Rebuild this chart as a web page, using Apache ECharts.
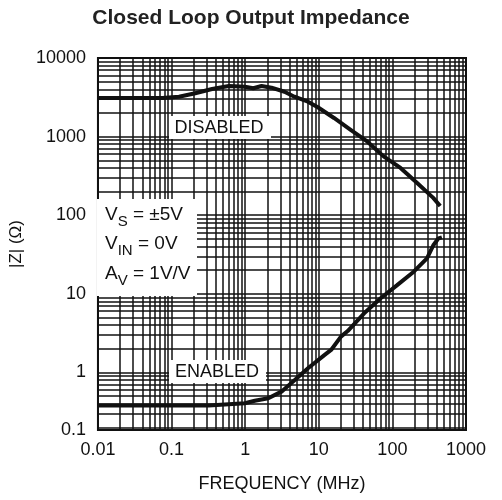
<!DOCTYPE html>
<html>
<head>
<meta charset="utf-8">
<script src="https://cdn.jsdelivr.net/npm/echarts@6/dist/echarts.min.js"></script>
<style>
  html, body { margin: 0; padding: 0; background: #fff; }
  #chart { width: 502px; height: 500px; }
</style>
</head>
<body>
<div id="chart"></div>
<script>
// tick labels
const xTickLabels = ['0.01', '0.1', '1', '10', '100', '1000']
const yTickLabels = ['0.1', '1', '10', '100', '1000', '10000']

// DISABLED curve, frequency (MHz) / |Z| (ohm)
const disabledFreq = [0.01, 0.075, 0.126, 0.21, 0.355, 0.6, 0.99, 1.29, 1.67, 2.28, 3.42, 4.66, 7.13, 9.7, 16.1, 27.4, 45.9, 76, 129, 217, 359, 446]
const disabledZ = [3100, 3100, 3220, 3560, 4030, 4400, 4310, 4120, 4400, 4190, 3720, 3220, 2780, 2360, 1725, 1213, 861, 560, 399, 257, 166, 131]

// ENABLED curve
const enabledFreq = [0.01, 0.32, 0.33, 0.99, 1.35, 2.06, 3.11, 4.72, 7.13, 11.9, 14.7, 20, 24.7, 41.3, 69.3, 116, 195, 295, 362, 423, 470]
const enabledZ = [0.38, 0.38, 0.40, 0.405, 0.436, 0.468, 0.569, 0.80, 1.13, 1.66, 1.93, 2.85, 3.36, 5.65, 8.77, 12.9, 19.1, 28.3, 41.8, 50.8, 52.3]

const yMin = 0.185 // plot bottom sits a bit above 0.1 in the original
const ink = '#111'

// minor grid lines at 2..9 of every decade
const gridLines = []
for (let d = -2; d <= 2; d++) {
  for (let m = 2; m <= 9; m++) gridLines.push({ xAxis: m * Math.pow(10, d) })
}
for (let d = -1; d <= 3; d++) {
  for (let m = 2; m <= 9; m++) {
    const v = m * Math.pow(10, d)
    if (v >= yMin) gridLines.push({ yAxis: v })
  }
}

const pairs = (xs, ys) => xs.map((x, i) => [x, ys[i]])
const labelFor = (labels, first) => v => labels[Math.floor(Math.log10(v) + 1e-6) - first] || ''

const chart = echarts.init(document.getElementById('chart'))
const font = 'Liberation Sans, Arial, sans-serif'
const rich = {
  m: { fontSize: 19, fontFamily: font },
  s: { fontSize: 15, fontFamily: font, padding: [13, 0, 0, 0] }
}

chart.setOption({
  animation: false,
  textStyle: { fontFamily: font },
  title: {
    text: 'Closed Loop Output Impedance',
    left: 'center',
    top: 3,
    textStyle: { fontSize: 21, fontWeight: 'bold', color: '#222', fontFamily: font }
  },
  grid: {
    left: 95,
    right: 36,
    top: 58,
    bottom: 70,
    show: true,
    borderColor: ink,
    borderWidth: 2
  },
  xAxis: {
    type: 'log',
    logBase: 10,
    min: 0.01,
    max: 1000,
    name: 'FREQUENCY (MHz)',
    nameLocation: 'middle',
    nameGap: 45,
    nameTextStyle: { fontSize: 18, color: ink },
    axisLine: { lineStyle: { color: ink, width: 2 } },
    axisTick: { show: false },
    axisLabel: { fontSize: 18, color: ink, margin: 11, formatter: labelFor(xTickLabels, -2) },
    splitLine: { show: true, lineStyle: { color: ink, width: 1.5 } }
  },
  yAxis: {
    type: 'log',
    logBase: 10,
    min: yMin,
    max: 10000,
    name: '|Z| (Ω)',
    nameLocation: 'middle',
    nameGap: 57,
    nameTextStyle: { fontSize: 17, color: ink },
    axisLine: { lineStyle: { color: ink, width: 2 } },
    axisTick: { show: false },
    axisLabel: { fontSize: 18, color: ink, margin: 12, showMinLabel: true, formatter: labelFor(yTickLabels, -1) },
    splitLine: { show: true, lineStyle: { color: ink, width: 1.5 } }
  },
  series: [
    {
      type: 'line',
      data: [],
      z: 1,
      silent: true,
      markLine: {
        silent: true,
        symbol: 'none',
        label: { show: false },
        lineStyle: { color: ink, width: 1.5, type: 'solid' },
        data: gridLines
      }
    },
    {
      name: 'DISABLED',
      type: 'line',
      z: 3,
      showSymbol: false,
      lineStyle: { color: ink, width: 4 },
      data: pairs(disabledFreq, disabledZ)
    },
    {
      name: 'ENABLED',
      type: 'line',
      z: 3,
      showSymbol: false,
      lineStyle: { color: ink, width: 4 },
      data: pairs(enabledFreq, enabledZ)
    }
  ],
  graphic: [
    { type: 'rect', z: 100, shape: { x: 169, y: 116, width: 102, height: 23 }, style: { fill: '#fff' } },
    { type: 'text', z: 101, x: 219, y: 128, style: { text: 'DISABLED', fontSize: 18, fontFamily: font, fill: ink, align: 'center', verticalAlign: 'middle' } },
    { type: 'rect', z: 100, shape: { x: 169, y: 360, width: 97, height: 23 }, style: { fill: '#fff' } },
    { type: 'text', z: 101, x: 217, y: 372, style: { text: 'ENABLED', fontSize: 18, fontFamily: font, fill: ink, align: 'center', verticalAlign: 'middle' } },
    { type: 'rect', z: 100, shape: { x: 97, y: 199, width: 100, height: 97 }, style: { fill: '#fff' } },
    { type: 'text', z: 101, x: 105, y: 215, style: { text: '{m|V}{s|S}{m| = ±5V}', fill: ink, verticalAlign: 'middle', rich: rich } },
    { type: 'text', z: 101, x: 105, y: 244, style: { text: '{m|V}{s|IN}{m| = 0V}', fill: ink, verticalAlign: 'middle', rich: rich } },
    { type: 'text', z: 101, x: 105, y: 274, style: { text: '{m|A}{s|V}{m| = 1V/V}', fill: ink, verticalAlign: 'middle', rich: rich } }
  ]
})
</script>
</body>
</html>
